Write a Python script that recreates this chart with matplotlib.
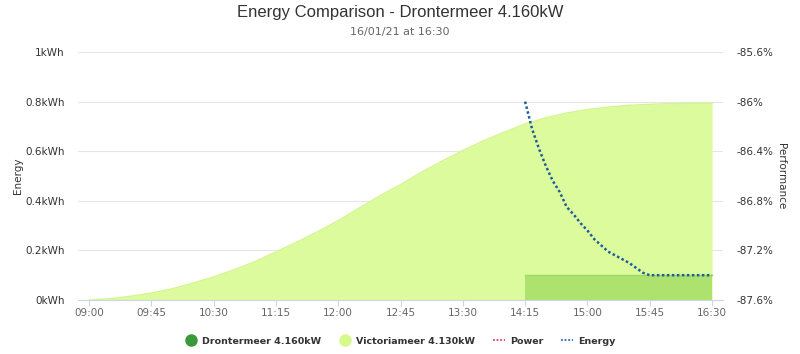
import matplotlib
matplotlib.use("Agg")
import matplotlib.pyplot as plt
from matplotlib.lines import Line2D
from matplotlib.ticker import FuncFormatter

# times as minutes after midnight
victoria_times = list(range(540, 991, 15))
victoria_kwh = [0.0, 0.005, 0.015, 0.028, 0.045, 0.068, 0.093, 0.122, 0.155, 0.194,
                0.233, 0.275, 0.32, 0.37, 0.42, 0.465, 0.515, 0.56, 0.603, 0.642,
                0.677, 0.71, 0.735, 0.754, 0.768, 0.778, 0.785, 0.789, 0.792, 0.793,
                0.793]

dronter_times = list(range(855, 991, 15))
dronter_kwh = [0.1] * len(dronter_times)

energy_times = list(range(855, 991, 5))
energy_pct = [-86.0, -86.22, -86.38, -86.52, -86.64, -86.73, -86.85, -86.91, -86.98,
              -87.04, -87.11, -87.16, -87.21, -87.24, -87.27, -87.30, -87.34, -87.38,
              -87.4, -87.4, -87.4, -87.4, -87.4, -87.4, -87.4, -87.4, -87.4, -87.4]

xtick_times = list(range(540, 991, 45))
left_ticks = [0, 0.2, 0.4, 0.6, 0.8, 1.0]
right_ticks = [-87.6, -87.2, -86.8, -86.4, -86.0, -85.6]

W, H = 800, 354
fig = plt.figure(figsize=(W / 100, H / 100), dpi=100)
ax = fig.add_axes([78 / W, 54 / H, 645 / W, 248 / H])

pad = 7.9
ax.set_xlim(540 - pad, 990 + pad)
ax.set_ylim(0, 1)

ax.fill_between(victoria_times, victoria_kwh, color="#dcfb9c", lw=0, zorder=2)
ax.plot(victoria_times, victoria_kwh, color="#d3f68c", lw=1, zorder=2.1)
ax.fill_between(dronter_times, dronter_kwh, color="#ade26f", lw=0, zorder=3)
ax.plot(dronter_times, dronter_kwh, color="#9fd862", lw=1, zorder=3.1)

for s in ["top", "right", "left"]:
    ax.spines[s].set_visible(False)
ax.spines["bottom"].set_color("#ccd6eb")
ax.set_yticks(left_ticks)
ax.yaxis.set_major_formatter(FuncFormatter(lambda v, p: f"{round(v, 1):g}kWh"))
ax.grid(axis="y", color="#e6e6e6", lw=0.8, zorder=0)
ax.set_axisbelow(True)
ax.tick_params(axis="y", length=0, labelsize=7.5, labelcolor="#333333", pad=9.5)
ax.set_xticks(xtick_times)
ax.set_xticklabels([f"{t // 60:02d}:{t % 60:02d}" for t in xtick_times],
                   family="Liberation Sans Narrow", fontsize=7.5, color="#666666")
ax.tick_params(axis="x", length=4, color="#ccd6eb", pad=1.5)

ax2 = ax.twinx()
ax2.set_ylim(-87.6, -85.6)
ax2.set_yticks(right_ticks)
ax2.yaxis.set_major_formatter(FuncFormatter(lambda v, p: f"{round(v, 1):g}%"))
for s in ["top", "right", "left", "bottom"]:
    ax2.spines[s].set_visible(False)
ax2.tick_params(axis="y", length=0, labelsize=7.5, labelcolor="#333333", pad=10)
ax2.plot(energy_times, energy_pct, color="#1f5d99", lw=1.8, ls=(0, (1, 1)), zorder=5)

fig.text(18 / W, 1 - 176 / H, "Energy", rotation=90, ha="center", va="center",
         fontsize=7.5, color="#333333")
fig.text(781 / W, 1 - 176 / H, "Performance", rotation=270, ha="center", va="center",
         fontsize=7.5, color="#333333")

fig.text(0.5, 1 - 12 / H, "Energy Comparison - Drontermeer 4.160kW", ha="center",
         va="center", fontsize=12, color="#333333", family="Liberation Sans")
fig.text(0.5, 1 - 32 / H, "16/01/21 at 16:30", ha="center", va="center",
         fontsize=8, color="#666666", family="Liberation Sans Narrow")

handles = [
    Line2D([], [], ls="none", marker="o", ms=8, color="#3a9a3a"),
    Line2D([], [], ls="none", marker="o", ms=8, color="#d7f98c"),
    Line2D([], [], ls=(0, (1, 1)), lw=1.3, color="#e0455a"),
    Line2D([], [], ls=(0, (1, 1)), lw=1.3, color="#2a6aab"),
]
labels = ["Drontermeer 4.160kW", "Victoriameer 4.130kW", "Power", "Energy"]
leg = fig.legend(handles, labels, loc="center", bbox_to_anchor=(0.5, 1 - 341 / H),
                 ncol=4, frameon=False, handlelength=1.3, handletextpad=0.5,
                 columnspacing=1.9, prop={"size": 6.8, "weight": "bold"})
for t in leg.get_texts():
    t.set_color("#333333")

fig.savefig("out.png", dpi=100)
